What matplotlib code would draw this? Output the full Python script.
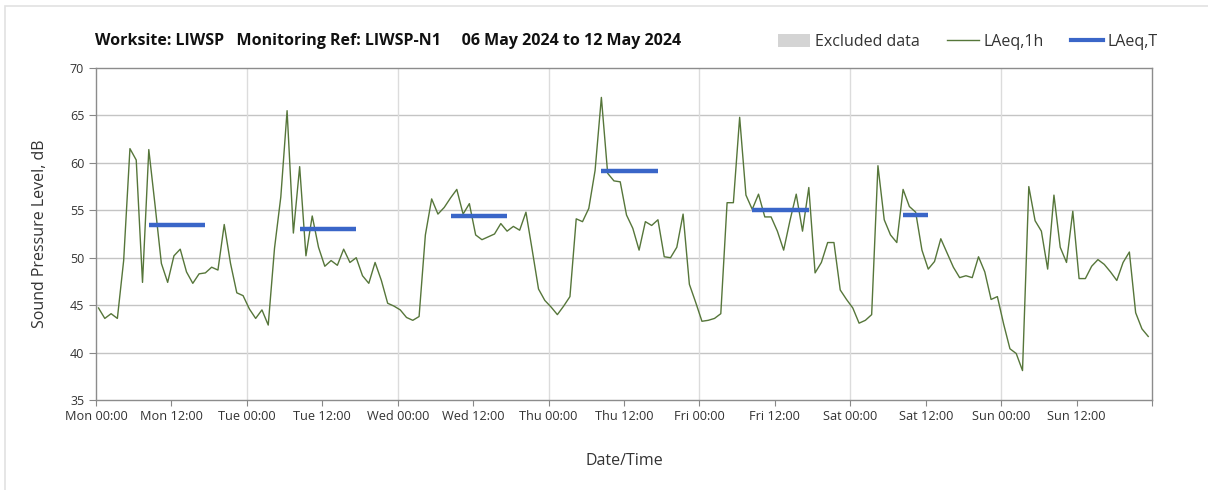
import matplotlib
matplotlib.use("Agg")
import matplotlib.pyplot as plt
from matplotlib.patches import Patch, Rectangle
from matplotlib.lines import Line2D

# hourly LAeq,1h readings, Mon 00:00 -> Sun 23:00
mon = [44.7, 43.6, 44.1, 43.6, 49.7, 61.5, 60.3, 47.4, 61.4, 55.5, 49.4, 47.4,
       50.2, 50.9, 48.5, 47.3, 48.3, 48.4, 49.0, 48.7, 53.5, 49.4, 46.3, 46.0]
tue = [44.6, 43.6, 44.5, 42.9, 51.0, 56.4, 65.5, 52.6, 59.6, 50.2, 54.4, 51.1,
       49.1, 49.7, 49.2, 50.9, 49.5, 50.0, 48.1, 47.3, 49.5, 47.6, 45.2, 44.9]
wed = [44.5, 43.7, 43.4, 43.8, 52.4, 56.2, 54.6, 55.3, 56.3, 57.2, 54.6, 55.7,
       52.4, 51.9, 52.2, 52.5, 53.6, 52.8, 53.3, 52.9, 54.8, 50.8, 46.7, 45.5]
thu = [44.8, 44.0, 44.9, 45.9, 54.1, 53.8, 55.2, 59.2, 66.9, 58.9, 58.1, 58.0,
       54.5, 53.1, 50.8, 53.8, 53.4, 54.0, 50.1, 50.0, 51.1, 54.6, 47.2, 45.3]
fri = [43.3, 43.4, 43.6, 44.1, 55.8, 55.8, 64.8, 56.6, 55.1, 56.7, 54.3, 54.3,
       52.8, 50.8, 53.9, 56.7, 52.8, 57.4, 48.4, 49.5, 51.6, 51.6, 46.6, 45.6]
sat = [44.7, 43.1, 43.4, 44.0, 59.7, 54.0, 52.4, 51.6, 57.2, 55.4, 54.8, 50.8,
       48.8, 49.6, 52.0, 50.5, 49.0, 47.9, 48.1, 47.9, 50.1, 48.5, 45.6, 45.9]
sun = [43.0, 40.4, 39.9, 38.1, 57.5, 53.9, 52.8, 48.8, 56.6, 51.1, 49.5, 54.9,
       47.8, 47.8, 49.1, 49.8, 49.3, 48.5, 47.6, 49.5, 50.6, 44.2, 42.5, 41.7]
laeq_1h = mon + tue + wed + thu + fri + sat + sun

# LAeq,T periods (hour index from Mon 00:00)
laeq_t_start = [8, 32, 56, 80, 104, 128]
laeq_t_end = [17, 41, 65, 89, 113, 132]
laeq_t = [53.5, 53.0, 54.4, 59.1, 55.0, 54.5]

days = ["Mon", "Tue", "Wed", "Thu", "Fri", "Sat", "Sun"]
tick_labels = []
for d in days:
    tick_labels.append(d + " 00:00")
    tick_labels.append(d + " 12:00")
tick_labels.append("")

plt.rcParams['font.family'] = ['Open Sans', 'DejaVu Sans']

fig = plt.figure(figsize=(12.08, 4.9), dpi=100)
ax = fig.add_axes([96 / 1208, 1 - 400 / 490, (1152 - 96) / 1208, (400 - 68) / 490])

hours = [h + 0.4 for h in range(len(laeq_1h))]
green = "#56763a"
blue = "#3a66c8"
ax.plot(hours, laeq_1h, color=green, lw=1.0, zorder=3)
for s, e, v in zip(laeq_t_start, laeq_t_end, laeq_t):
    ax.plot([s + 0.4, e + 0.4], [v, v], color=blue, lw=3.2, solid_capstyle="butt", zorder=4)

ax.set_xlim(0, 168)
ax.set_ylim(35, 70)
ax.set_xticks(range(0, 169, 12))
ax.set_xticklabels(tick_labels, fontsize=9.2, color="#333333")
ax.set_yticks(range(35, 71, 5))
ax.tick_params(axis="y", labelsize=9, labelcolor="#333333", color="#888888", length=5)
ax.tick_params(axis="x", color="#888888", length=4)

for y in range(40, 70, 5):
    ax.axhline(y, color="#c4c4c4", lw=1.0, zorder=1)
for x in range(24, 168, 24):
    ax.axvline(x, color="#dcdcdc", lw=1.0, zorder=1)
for sp in ax.spines.values():
    sp.set_color("#8c8c8c")
    sp.set_linewidth(1.0)

ax.set_ylabel("Sound Pressure Level, dB", fontsize=11.5, color="#333333", labelpad=16)
ax.set_xlabel("Date/Time", fontsize=11.5, color="#333333", labelpad=21)

fig.text(95 / 1208, 1 - 41 / 490,
         "Worksite: LIWSP   Monitoring Ref: LIWSP-N1     06 May 2024 to 12 May 2024",
         fontsize=11.5, fontweight="bold", color="#111111", va="center", ha="left")

handles = [Patch(facecolor="#d4d4d4", edgecolor="none"),
           Line2D([], [], color=green, lw=1.0),
           Line2D([], [], color=blue, lw=3.0)]
fig.legend(handles, ["Excluded data", "LAeq,1h", "LAeq,T"], ncol=3, frameon=False,
           loc="center left", bbox_to_anchor=(764 / 1208, 1 - 42 / 490),
           fontsize=11.5, handlelength=2.0, handleheight=0.9, columnspacing=1.7,
           handletextpad=0.3, labelcolor="#333333")

fig.patches.append(Rectangle((4.5 / 1208, -0.1), 1.2, 1 - 6 / 490 + 0.1,
                             transform=fig.transFigure, fill=False,
                             edgecolor="#e2e2e2", lw=1.2))

fig.savefig("out.png", dpi=100, facecolor="white")
